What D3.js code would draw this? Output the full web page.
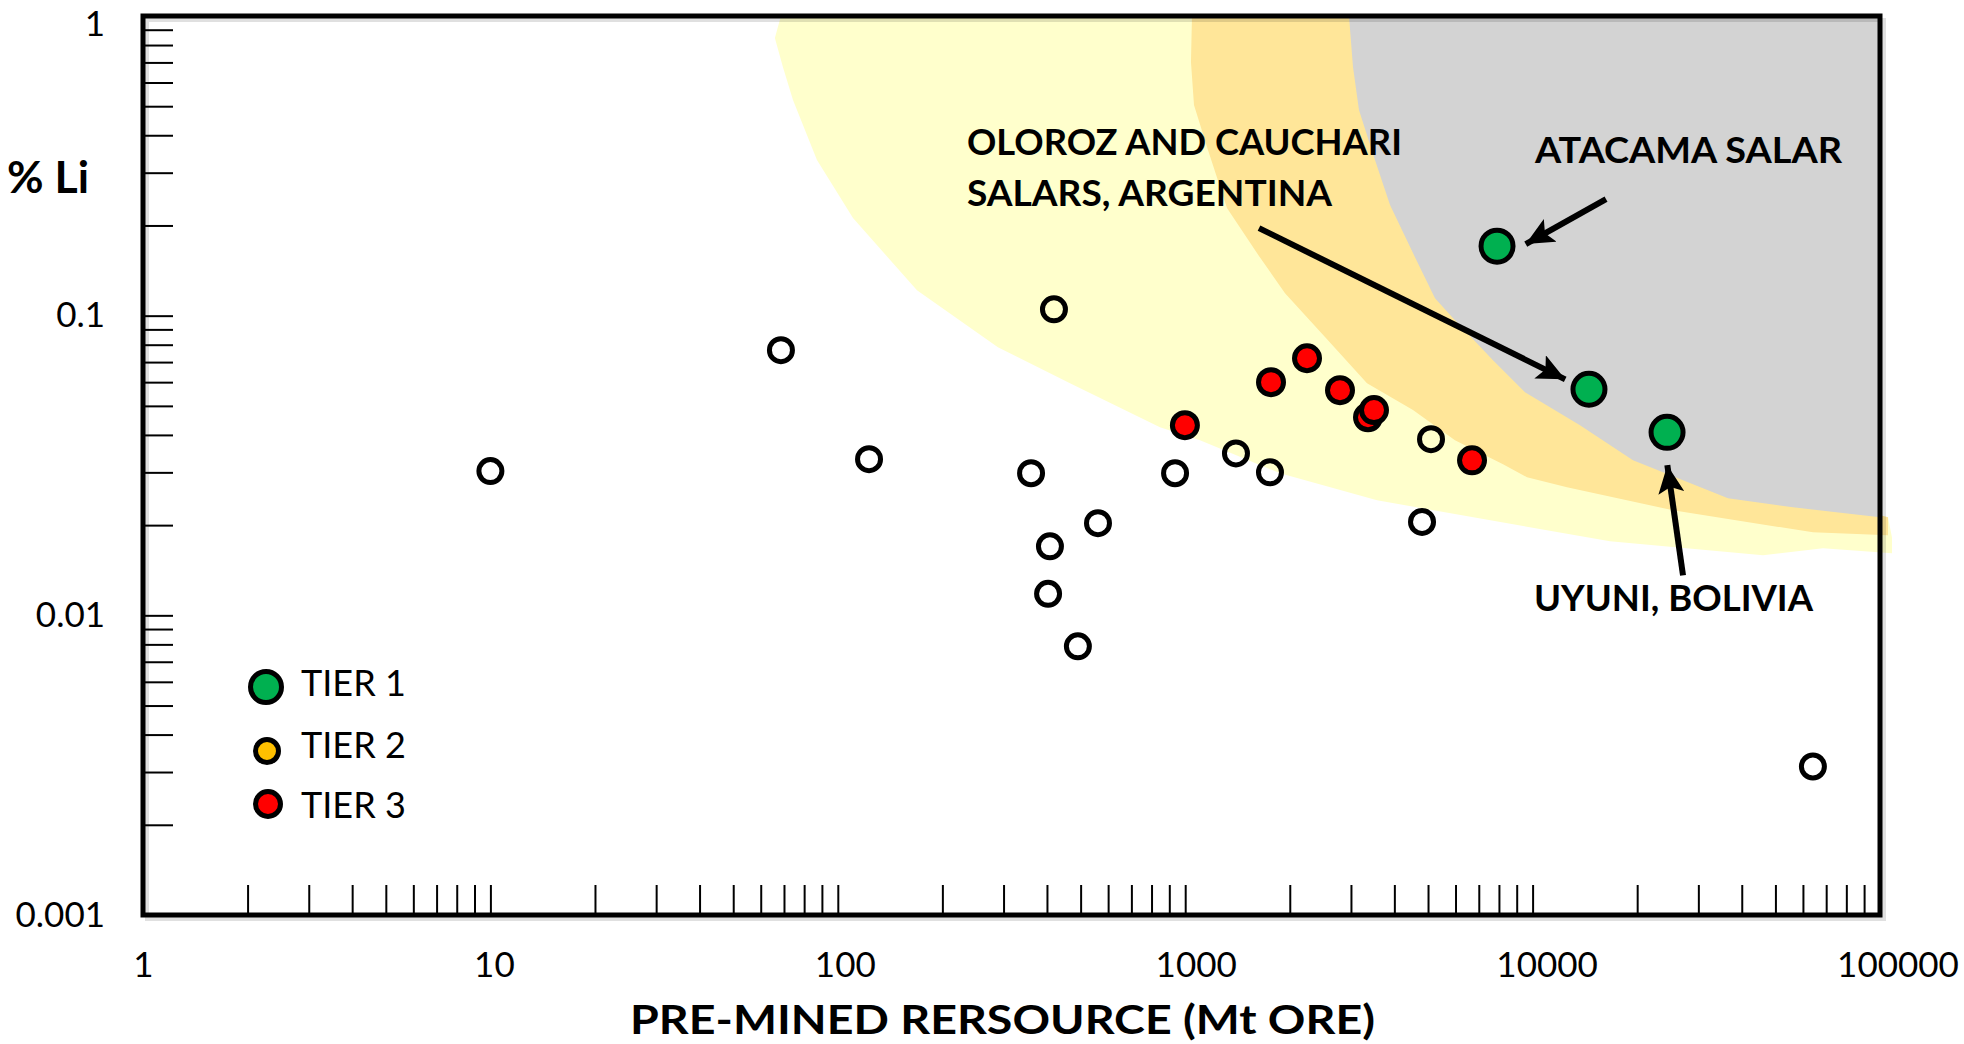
<!DOCTYPE html>
<html><head><meta charset="utf-8">
<script src="https://cdn.jsdelivr.net/npm/d3@7"></script>
<style>
html,body{margin:0;padding:0;background:#fff;}
svg{display:block;font-family:Lato,'Open Sans',sans-serif;}
</style></head><body>
<svg id="chart" width="1964" height="1044"></svg>
<script>
// ---------------- data ----------------
// [pre-mined resource (Mt ore), % Li]
const otherDeposits = [[10,0.0303],[68.6,0.0767],[123,0.0332],[419,0.105],[360,0.0298],[408,0.0170],
  [403,0.0118],[491,0.00788],[561,0.0203],[935,0.0298],[1400,0.0347],[1754,0.0300],[5100,0.0387],
  [4805,0.0205],[64100,0.00313]];
const tier3Deposits = [[998,0.0431],[1766,0.060],[2242,0.0721],[2790,0.0564],[3359,0.0458],[3495,0.0484],[6693,0.0329]];
const tier1Deposits = [[7900,0.1706],[14530,0.0568],[24380,0.0408]];

// shaded fields (Mt ore, % Li)
const yellowField = [[68.6,1],[65.9,0.844],[69.5,0.676],[74.3,0.524],[87.1,0.3305],[110.6,0.2116],[169,0.1216],
  [289,0.0785],[466,0.0595],[846,0.0424],[1103,0.0384],[1875,0.0298],[3566,0.0242],[16700,0.01767],
  [46050,0.01586],[68550,0.01674],[108270,0.0161],[108270,0.0182],[105430,0.02124],[100000,0.02158],[100000,1]];
const orangeField = [[1046,1],[1039,0.702],[1060,0.5045],[1163,0.357],[1319,0.2285],[1609,0.1617],[1938,0.1189],
  [2526,0.0848],[3337,0.0595],[4526,0.0484],[5978,0.0384],[8220,0.0319],[9636,0.0289],[12560,0.02676],
  [25360,0.02242],[64140,0.01892],[105430,0.0185],[105430,0.02124],[100000,0.02158],[100000,1]];
const greyField = [[2961,1],[3041,0.6756],[3164,0.4855],[3495,0.3383],[3887,0.2339],[4526,0.1617],[5237,0.1144],
  [5861,0.0989],[7691,0.0710],[9508,0.0555],[13690,0.0431],[19450,0.0329],[36520,0.0246],[56180,0.02294],
  [100000,0.02124],[100000,1]];

// annotation arrows: [from, to] in (Mt ore, % Li)
const arrowData = [
  [[1631,0.196],[12560,0.0609]],
  [[16270,0.2449],[9447,0.172]],
  [[27100,0.0136],[24380,0.0322]]
];

const xLabelValues = [1,10,100,1000,10000,100000];
const xLabelText = ["1","10","100","1000","10000","100000"];
const yLabelValues = [0.001,0.01,0.1,1];
const yLabelText = ["0.001","0.01","0.1","1"];
const xMinorTicks = [2,3,4,5,6,7,8,9,10,20,30,40,50,60,70,80,90,100,200,300,400,500,600,700,800,900,1000,
  2000,3000,4000,5000,6000,7000,8000,9000,10000,20000,30000,40000,50000,60000,70000,80000,90000];
const yMinorTicks = [0.002,0.003,0.004,0.005,0.006,0.007,0.008,0.009,0.01,0.02,0.03,0.04,0.05,0.06,0.07,0.08,0.09,
  0.1,0.2,0.3,0.4,0.5,0.6,0.7,0.8,0.9];

const legendNames = ["TIER 1","TIER 2","TIER 3"];
const legendColors = ["#00B050","#FFC000","#FF0000"];

// ---------------- layout ----------------
const L = 143, R = 1880, T = 16, B = 915;
const svg = d3.select("#chart");
const x = d3.scaleLog().domain([1,100000]).range([L,R]);
const y = d3.scaleLog().domain([0.001,1]).range([B,T]);

// fields
const area = d3.line().x(d=>x(d[0])).y(d=>y(d[1]));
svg.append("path").attr("d", area(yellowField)+"Z").attr("fill","#FFFFCC");
svg.append("path").attr("d", area(orangeField)+"Z").attr("fill","#FFE699");
svg.append("path").attr("d", area(greyField)+"Z").attr("fill","#D3D3D3");

// minor ticks (inward)
const gxT = svg.append("g").attr("transform",`translate(0,${B})`)
  .call(d3.axisBottom(x).tickValues(xMinorTicks).tickSize(-30).tickFormat(""));
const gyT = svg.append("g").attr("transform",`translate(${L},0)`)
  .call(d3.axisLeft(y).tickValues(yMinorTicks).tickSize(-30).tickFormat(""));
[gxT,gyT].forEach(g=>{g.select(".domain").remove(); g.selectAll("line").attr("stroke","#000").attr("stroke-width",2);});

// labels
const gxL = svg.append("g").attr("transform",`translate(0,${B})`)
  .call(d3.axisBottom(x).tickValues(xLabelValues).tickSize(0).tickPadding(37)
  .tickFormat((d,i)=>xLabelText[i]));
gxL.selectAll("text").attr("dx",(d,i)=>3.5*(xLabelText[i].length-1));
const gyL = svg.append("g").attr("transform",`translate(${L},0)`)
  .call(d3.axisLeft(y).tickValues(yLabelValues).tickSize(0).tickPadding(38)
  .tickFormat((d,i)=>yLabelText[i]));
gyL.selectAll("text").filter(d=>d===1).attr("dy","0.55em");
[gxL,gyL].forEach(g=>{g.select(".domain").remove();
  g.selectAll("text").attr("font-family","Lato").attr("font-size",35).attr("fill","#000");});

// frame (with faint shadow)
svg.append("rect").attr("x",L+4).attr("y",T+4).attr("width",R-L).attr("height",B-T)
  .attr("fill","none").attr("stroke","#000").attr("stroke-opacity",0.12).attr("stroke-width",4);
svg.append("rect").attr("x",L).attr("y",T).attr("width",R-L).attr("height",B-T)
  .attr("fill","none").attr("stroke","#000").attr("stroke-width",5);

// points
function dots(data, r, fill){
  svg.append("g").selectAll("circle").data(data).join("circle")
    .attr("cx",d=>x(d[0])).attr("cy",d=>y(d[1])).attr("r",r)
    .attr("fill",fill).attr("stroke","#000").attr("stroke-width",5);
}
dots(otherDeposits, 11.5, "none");
dots(tier3Deposits, 12.5, "#FF0000");
dots(tier1Deposits, 16, "#00B050");

// arrows
const defs = svg.append("defs");
defs.append("marker").attr("id","ah").attr("markerUnits","userSpaceOnUse")
  .attr("markerWidth",30).attr("markerHeight",26).attr("refX",28).attr("refY",13)
  .attr("orient","auto")
  .append("path").attr("d","M0,0 L28,13 L0,26 L6,13 Z").attr("fill","#000");
arrowData.forEach(a=>{
  const x1=x(a[0][0]), y1=y(a[0][1]), x2=x(a[1][0]), y2=y(a[1][1]);
  const len=Math.hypot(x2-x1,y2-y1), ux=(x2-x1)/len, uy=(y2-y1)/len;
  svg.append("line").attr("x1",x1).attr("y1",y1).attr("x2",x2-ux*2).attr("y2",y2-uy*2)
    .attr("stroke","#000").attr("stroke-width",6).attr("marker-end","url(#ah)");
});

// annotation labels
function label(txt, xx, yy, size, len, weight){
  const t = svg.append("text").attr("x",xx).attr("y",yy).text(txt)
    .attr("font-family","Lato").attr("font-size",size).attr("font-weight",weight||700).attr("fill","#000");
  if(len) t.attr("textLength",len).attr("lengthAdjust","spacingAndGlyphs");
  return t;
}
label("OLOROZ AND CAUCHARI", 967, 155, 36, 435);
label("SALARS, ARGENTINA", 967, 206, 36, 365);
label("ATACAMA SALAR", 1535, 163, 36, 307);
label("UYUNI, BOLIVIA", 1534, 611, 36, 279);
label("PRE-MINED RERSOURCE (Mt ORE)", 630, 1034, 40, 745);
label("% Li", 7, 193, 44, 82);

// legend
const legY = [687,751,804], legR=[15.5,11.5,12.5], legX=[266,267,268], legTY=[696,758,818];
legendNames.forEach((n,i)=>{
  svg.append("circle").attr("cx",legX[i]).attr("cy",legY[i]).attr("r",legR[i])
    .attr("fill",legendColors[i]).attr("stroke","#000").attr("stroke-width",5);
  label(n, 301, legTY[i], 36, null, 400);
});
</script>
</body></html>
